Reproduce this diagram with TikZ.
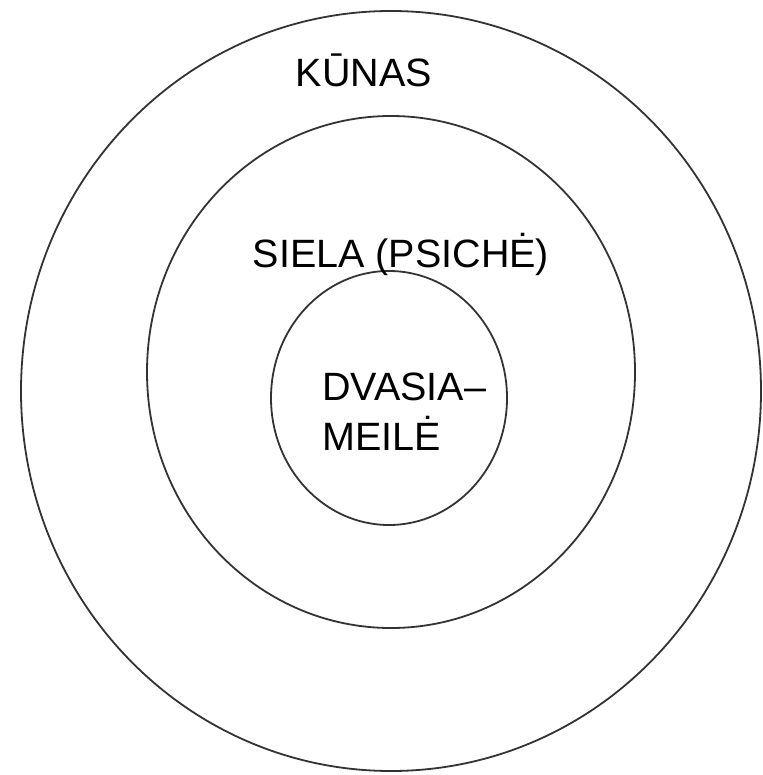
\documentclass[tikz,border=0pt]{standalone}
\usepackage{fontspec}
\setmainfont{Liberation Sans}
\begin{document}
\begin{tikzpicture}[x=1pt,y=-1pt,
  ring/.style={draw=black!80, line width=1.8pt},
  lbl/.style={font=\fontsize{39.5}{46}\selectfont, inner sep=0pt, text=black}]
\useasboundingbox (0,0) rectangle (762,775);
\fill[white] (0,0) rectangle (762,775);
\clip (0,0) rectangle (762,775);
\draw[ring] (391,391) ellipse [x radius=370, y radius=380];
\draw[ring] (391,372) ellipse [x radius=244, y radius=256];
\draw[ring] (389,398) ellipse [x radius=118, y radius=127];
\node[lbl, anchor=base] (kunas) at (364,87) {KŪNAS};
\node[lbl, anchor=base] (siela) at (401,267) {SIELA (PSICHĖ)};
\node[lbl, anchor=base west] (dvasia) at (322,400) {DVASIA–};
\node[lbl, anchor=base west] (meile) at (322,450) {MEILĖ};
\end{tikzpicture}
\end{document}
